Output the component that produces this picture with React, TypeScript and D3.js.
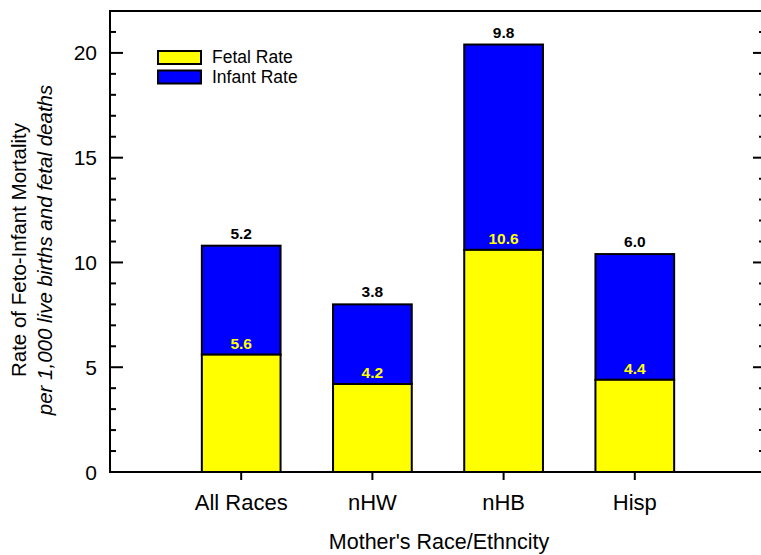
import React from "react";
import * as d3 from "d3";

const categories = ["All Races", "nHW", "nHB", "Hisp"];
const fetalRate = [5.6, 4.2, 10.6, 4.4];
const infantRate = [5.2, 3.8, 9.8, 6.0];
const yMajorTicks = [0, 5, 10, 15, 20];
const seriesNames = ["Fetal Rate", "Infant Rate"];
const seriesColors = ["#FFFF00", "#0000FF"];

const W = 761;
const H = 555;
const M = { left: 110, right: 766, top: 11, bottom: 472 };
const FONT = "'Liberation Sans', Arial, Helvetica, sans-serif";

export default function App() {
  const x = d3.scaleLinear().domain([0, categories.length + 1]).range([M.left, M.right]);
  const y = d3.scaleLinear().domain([0, 22]).range([M.bottom, M.top]);
  const barW = (x(1) - x(0)) * 0.6;
  const minorTicks = d3.range(0, 23, 1).filter((v) => v % 5 !== 0);

  return (
    <svg
      width={W}
      height={H}
      style={{ position: "absolute", left: 0, top: 0, display: "block", background: "#fff" }}
      fontFamily={FONT}
    >
      {/* bars */}
      {categories.map((c, i) => {
        const cx = x(i + 1);
        const f = fetalRate[i];
        const t = f + infantRate[i];
        return (
          <g key={c}>
            <rect
              x={cx - barW / 2}
              y={y(t)}
              width={barW}
              height={y(f) - y(t)}
              fill={seriesColors[1]}
              stroke="#000"
              strokeWidth={2}
            />
            <rect
              x={cx - barW / 2}
              y={y(f)}
              width={barW}
              height={y(0) - y(f)}
              fill={seriesColors[0]}
              stroke="#000"
              strokeWidth={2}
            />
            <text
              x={cx}
              y={y(t) - 7}
              textAnchor="middle"
              fontSize={15.5}
              fontWeight="bold"
              fill="#000"
            >
              {infantRate[i].toFixed(1)}
            </text>
            <text
              x={cx}
              y={y(f) - 6}
              textAnchor="middle"
              fontSize={15.5}
              fontWeight="bold"
              fill="#FFFF00"
            >
              {f.toFixed(1)}
            </text>
          </g>
        );
      })}

      {/* frame */}
      <rect
        x={M.left}
        y={M.top}
        width={M.right - M.left}
        height={M.bottom - M.top}
        fill="none"
        stroke="#000"
        strokeWidth={2}
      />

      {/* y ticks */}
      {yMajorTicks.map((v) => (
        <g key={"ma" + v}>
          <line x1={M.left} x2={M.left + 13} y1={y(v)} y2={y(v)} stroke="#000" strokeWidth={2} />
          <line x1={M.right} x2={M.right - 13} y1={y(v)} y2={y(v)} stroke="#000" strokeWidth={2} />
          <text x={97} y={y(v) + 7.5} textAnchor="end" fontSize={21} fill="#000">
            {v}
          </text>
        </g>
      ))}
      {minorTicks.map((v) => (
        <g key={"mi" + v}>
          <line x1={M.left} x2={M.left + 6} y1={y(v)} y2={y(v)} stroke="#000" strokeWidth={2} />
          <line x1={M.right} x2={M.right - 7} y1={y(v)} y2={y(v)} stroke="#000" strokeWidth={2} />
        </g>
      ))}

      {/* x ticks */}
      {categories.map((c, i) => (
        <g key={"xt" + c}>
          <line x1={x(i + 1)} x2={x(i + 1)} y1={M.bottom} y2={M.bottom + 8} stroke="#000" strokeWidth={2} />
          <text x={x(i + 1)} y={510} textAnchor="middle" fontSize={22} fill="#000">
            {c}
          </text>
        </g>
      ))}

      {/* axis titles */}
      <text x={439} y={549} textAnchor="middle" fontSize={21.5} fill="#000">
        Mother's Race/Ethncity
      </text>
      <g transform="translate(26,250) rotate(-90)">
        <text x={0} y={0} textAnchor="middle" fontSize={20.5} fill="#000">
          Rate of Feto-Infant Mortality
        </text>
        <text x={0} y={26} textAnchor="middle" fontSize={20.5} fontStyle="italic" fill="#000">
          per 1,000 live births and fetal deaths
        </text>
      </g>

      {/* legend */}
      {seriesNames.map((s, i) => (
        <g key={s}>
          <rect
            x={158}
            y={51 + i * 19.5}
            width={43}
            height={13}
            fill={seriesColors[i]}
            stroke="#000"
            strokeWidth={2}
          />
          <text x={212} y={63 + i * 19.5} fontSize={17.5} fill="#000">
            {s}
          </text>
        </g>
      ))}
    </svg>
  );
}
